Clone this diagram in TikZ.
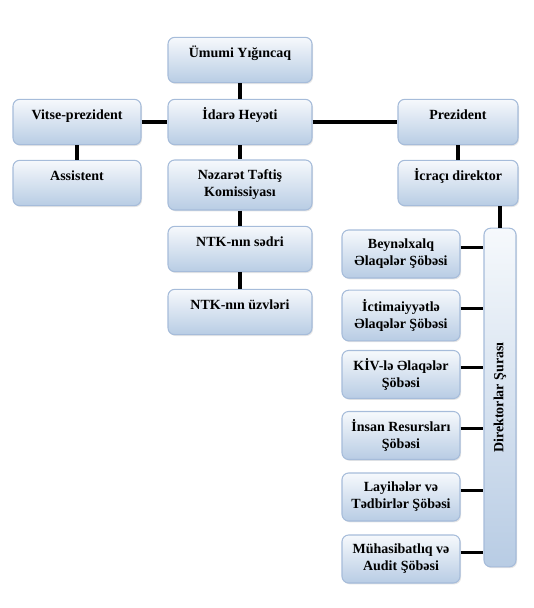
\documentclass[tikz,border=0pt]{standalone}
\usepackage{fontspec}
\setmainfont{Liberation Serif}
\usepackage{graphicx}
\usetikzlibrary{shadows}
\definecolor{boxtop}{RGB}{246,249,252}
\definecolor{boxbot}{RGB}{184,204,228}
\definecolor{boxline}{RGB}{166,188,218}

\begin{document}
\begin{tikzpicture}[
		x=0.75pt, y=-0.75pt,
		tile/.style={rectangle, rounded corners=5pt, draw=boxline, line width=0.8pt, top color=boxtop, bottom color=boxbot, align=center, font=\bfseries\fontsize{10.5}{12.75}\selectfont, drop shadow={shadow xshift=0.8pt, shadow yshift=-1pt, opacity=0.2}},
		box/.style={tile, minimum width=108pt, minimum height=34pt},
		one/.style={text height=8pt, text depth=12pt},
		side/.style={box, one, minimum width=96pt},
		head/.style={box, one, minimum width=90pt},
		dept/.style={box, minimum width=88.5pt, minimum height=36pt},
		board/.style={tile, minimum width=24pt, minimum height=254pt},
		link/.style={line width=2.4pt}
	]
	\useasboundingbox (0,0) rectangle (533,608);

	% Top
	\node[box, one] (umumi) at (240,60) {Ümumi Yığıncaq};
	\node[box, one] (idare) at (240,122) {İdarə Heyəti};

	\draw[link] (umumi) -- (idare);

	% Left
	\node[side] (vitse) at (77,122) {Vitse-prezident};
	\node[side] (assist) at (77,183) {Assistent};

	\draw[link] (vitse) -- (idare);
	\draw[link] (vitse) -- (assist);

	% Middle
	\node[box, minimum height=37.5pt] (nezaret) at (240,185) {Nəzarət Təftiş\\Komissiyası};
	\node[box, one] (sedr) at (240,249) {NTK-nın sədri};
	\node[box, one] (uzv) at (240,312) {NTK-nın üzvləri};

	\draw[link] (idare) -- (nezaret);
	\draw[link] (nezaret) -- (sedr);
	\draw[link] (sedr) -- (uzv);

	% Right
	\node[head] (prez) at (458,122) {Prezident};
	\node[head] (icraci) at (458,183) {İcraçı direktor};
	\node[board] (sura) at (500,397.5) {\rotatebox{90}{Direktorlar Şurası}};

	\draw[link] (idare) -- (prez);
	\draw[link] (prez) -- (icraci);
	\draw[link] (icraci.south -| sura.north) -- (sura.north);

	% Departments
	\node[dept] (dept1) at (401,254) {Beynəlxalq\\Əlaqələr Şöbəsi};
	\node[dept, minimum height=38pt] (dept2) at (401,315.5) {İctimaiyyətlə\\Əlaqələr Şöbəsi};
	\node[dept] (dept3) at (401,374.5) {KİV-lə Əlaqələr\\Şöbəsi};
	\node[dept] (dept4) at (401,435.5) {İnsan Resursları\\Şöbəsi};
	\node[dept] (dept5) at (401,497) {Layihələr və\\Tədbirlər Şöbəsi};
	\node[dept] (dept6) at (401,559) {Mühasibatlıq və\\Audit Şöbəsi};

	\foreach \i in {1,...,6}
		\draw[link] ([yshift=5pt]dept\i.east) -- ([yshift=5pt]dept\i.east -| sura.west);

\end{tikzpicture}
\end{document}
